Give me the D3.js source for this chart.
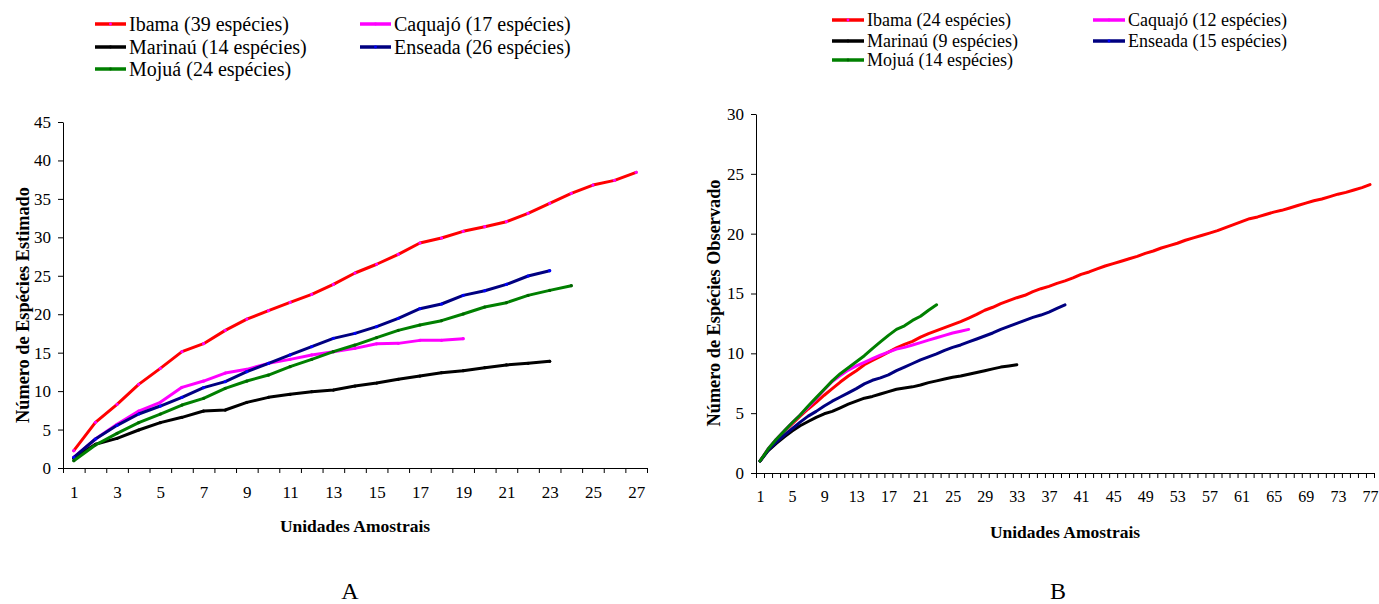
<!DOCTYPE html>
<html>
<head>
<meta charset="utf-8">
<script src="https://cdn.jsdelivr.net/npm/d3@7/dist/d3.min.js"></script>
<style>
  html, body { margin: 0; padding: 0; background: #fff; }
  svg { display: block; font-family: "Liberation Serif", "Times New Roman", Times, "DejaVu Serif", serif; }
  svg text { font-family: "Liberation Serif", "Times New Roman", Times, "DejaVu Serif", serif; fill: #000; }
</style>
</head>
<body>
<svg id="chart" width="1379" height="604"></svg>
<script>
// ---- Panel A: estimated richness per sampling unit ----
const seriesNames = ["Ibama", "Caquajó", "Marinaú", "Enseada", "Mojuá"];
const legendA = ["Ibama (39 espécies)", "Caquajó (17 espécies)", "Marinaú  (14 espécies)", "Enseada (26 espécies)", "Mojuá (24 espécies)"];
const legendB = ["Ibama (24 espécies)", "Caquajó (12 espécies)", "Marinaú (9 espécies)", "Enseada (15 espécies)", "Mojuá (14 espécies)"];
const colors = ["#ff0000", "#ff00ff", "#000000", "#000080", "#008000"];
const markerColors = ["#ff00ff", "#ff00ff", "#000000", "#0000ff", "#006400"];

const ibamaA   = [2.25, 5.94, 8.28, 10.88, 12.96, 15.13, 16.17, 17.9, 19.37, 20.46, 21.54, 22.58, 23.88, 25.36, 26.5, 27.79, 29.26, 29.91, 30.78, 31.38, 32.03, 33.12, 34.42, 35.72, 36.8, 37.41, 38.45];
const caquajoA = [1.39, 3.77, 5.68, 7.41, 8.54, 10.49, 11.31, 12.35, 12.83, 13.61, 14.13, 14.7, 15.13, 15.56, 16.15, 16.21, 16.6, 16.6, 16.82];
const marinauA = [1.26, 3.08, 3.86, 4.94, 5.9, 6.59, 7.41, 7.54, 8.54, 9.19, 9.58, 9.93, 10.14, 10.66, 11.05, 11.53, 11.96, 12.4, 12.66, 13.05, 13.4, 13.61, 13.87];
const enseadaA = [1.39, 3.77, 5.55, 7.02, 8.06, 9.19, 10.45, 11.23, 12.53, 13.61, 14.7, 15.78, 16.86, 17.51, 18.38, 19.46, 20.72, 21.33, 22.45, 23.06, 23.88, 24.97, 25.66];
const mojuaA   = [0.95, 2.99, 4.51, 5.9, 7.02, 8.19, 9.06, 10.36, 11.31, 12.09, 13.18, 14.13, 15.13, 15.99, 16.95, 17.9, 18.6, 19.16, 20.03, 20.94, 21.5, 22.45, 23.1, 23.71];

// ---- Panel B: observed richness per sampling unit ----
const ibamaB = [1.0, 1.95, 2.75, 3.45, 4.1, 4.75, 5.35, 5.9, 6.5, 7.05, 7.6, 8.1, 8.55, 9.05, 9.4, 9.75, 10.1, 10.45, 10.75, 11.0,
  11.35, 11.65, 11.9, 12.15, 12.4, 12.65, 12.95, 13.25, 13.6, 13.85, 14.15, 14.4, 14.65, 14.85, 15.15, 15.4, 15.6, 15.85, 16.05, 16.3,
  16.6, 16.8, 17.05, 17.3, 17.5, 17.7, 17.9, 18.1, 18.35, 18.55, 18.8, 19.0, 19.2, 19.45, 19.65, 19.85, 20.05, 20.25, 20.5, 20.75,
  21.0, 21.25, 21.4, 21.6, 21.8, 21.95, 22.15, 22.35, 22.55, 22.75, 22.9, 23.1, 23.3, 23.45, 23.65, 23.85, 24.1];
const caquajoB = [1.0, 2.0, 2.8, 3.5, 4.2, 4.85, 5.5, 6.2, 6.95, 7.65, 8.15, 8.6, 8.95, 9.25, 9.55, 9.85, 10.1, 10.35, 10.5, 10.7,
  10.9, 11.1, 11.3, 11.5, 11.7, 11.85, 12.0];
const marinauB = [1.0, 1.85, 2.45, 3.0, 3.5, 3.95, 4.3, 4.65, 4.95, 5.15, 5.45, 5.75, 6.0, 6.25, 6.4, 6.6, 6.8, 7.0, 7.1, 7.2,
  7.35, 7.55, 7.7, 7.85, 8.0, 8.1, 8.25, 8.4, 8.55, 8.7, 8.85, 8.95, 9.05];
const enseadaB = [1.0, 1.9, 2.55, 3.15, 3.7, 4.25, 4.75, 5.15, 5.6, 6.0, 6.35, 6.7, 7.05, 7.45, 7.75, 7.95, 8.2, 8.55, 8.85, 9.15,
  9.45, 9.7, 9.95, 10.25, 10.5, 10.7, 10.95, 11.2, 11.45, 11.7, 12.0, 12.25, 12.5, 12.75, 13.0, 13.2, 13.45, 13.75, 14.05];
const mojuaB = [1.0, 2.0, 2.8, 3.5, 4.2, 4.85, 5.6, 6.3, 7.0, 7.7, 8.3, 8.8, 9.3, 9.8, 10.4, 10.95, 11.5, 12.0, 12.3, 12.75,
  13.1, 13.6, 14.05];

const yTicksA = [0, 5, 10, 15, 20, 25, 30, 35, 40, 45];
const yTicksB = [0, 5, 10, 15, 20, 25, 30];
const xLabelsA = d3.range(1, 28, 2);
const xLabelsB = d3.range(1, 78, 4);

const FONT = '"Liberation Serif", "Times New Roman", Times, "DejaVu Serif", serif';

const svg = d3.select("#chart");
svg.append("rect").attr("width", 1379).attr("height", 604).attr("fill", "#fff");

function panel(cfg) {
  const g = svg.append("g");
  const x = d3.scaleLinear().domain([0.5, cfg.nCat + 0.5]).range([cfg.left, cfg.right]);
  const y = d3.scaleLinear().domain([0, cfg.yMax]).range([cfg.bottom, cfg.top]);

  // category boundary tick marks
  g.append("g")
    .attr("transform", `translate(0,${cfg.bottom})`)
    .call(d3.axisBottom(x).tickValues(d3.range(0.5, cfg.nCat + 1, 1)).tickFormat("").tickSize(5).tickSizeOuter(0))
    .call(a => a.select(".domain").attr("stroke", "#000"))
    .call(a => a.selectAll("line").attr("stroke", "#000"));
  // category labels
  g.append("g")
    .attr("transform", `translate(0,${cfg.bottom})`)
    .call(d3.axisBottom(x).tickValues(cfg.xLabels).tickFormat(d3.format("d")).tickSize(0).tickPadding(18))
    .call(a => a.attr("font-family", null))
    .call(a => a.select(".domain").remove())
    .call(a => a.selectAll("text").attr("font-size", cfg.xFont).style("font-family", FONT));

  // value axis
  g.append("g")
    .attr("transform", `translate(${cfg.left},0)`)
    .call(d3.axisLeft(y).tickValues(cfg.yTicks).tickFormat(d3.format("d")).tickSize(5).tickSizeOuter(0).tickPadding(7))
    .call(a => a.attr("font-family", null))
    .call(a => a.select(".domain").attr("stroke", "#000"))
    .call(a => a.selectAll("line").attr("stroke", "#000"))
    .call(a => a.selectAll("text").attr("font-size", 17).style("font-family", FONT));

  // axis titles
  g.append("text")
    .attr("transform", `translate(${cfg.yTitleX},${cfg.yTitleY}) rotate(-90)`)
    .attr("text-anchor", "middle").attr("font-weight", "bold").attr("font-size", 18.3)
    .style("font-family", FONT)
    .text(cfg.yTitle);
  g.append("text")
    .attr("x", (cfg.left + cfg.right) / 2).attr("y", cfg.xTitleY)
    .attr("text-anchor", "middle").attr("font-weight", "bold").attr("font-size", 17.5)
    .style("font-family", FONT)
    .text("Unidades Amostrais");
  g.append("text")
    .attr("x", cfg.panelX).attr("y", 599)
    .attr("text-anchor", "middle").attr("font-size", 24)
    .style("font-family", FONT)
    .text(cfg.panelLabel);

  // series
  const line = d3.line().x((d, i) => x(i + 1)).y(d => y(d));
  cfg.series.forEach((vals, k) => {
    g.append("path").datum(vals)
      .attr("fill", "none").attr("stroke", colors[k]).attr("stroke-width", cfg.lw)
      .attr("stroke-linejoin", "round").attr("stroke-linecap", "round")
      .attr("d", line);
    if (cfg.markers) {
      g.append("g").selectAll("circle").data(vals).join("circle")
        .attr("cx", (d, i) => x(i + 1)).attr("cy", d => y(d)).attr("r", 1.6)
        .attr("fill", markerColors[k]);
    }
  });

  // legend
  cfg.legend.forEach((txt, k) => {
    const pos = cfg.legendPos[k];
    const lg = g.append("g").attr("transform", `translate(${pos[0]},${pos[1]})`);
    lg.append("line").attr("x1", 0).attr("x2", cfg.legendLen).attr("y1", 0).attr("y2", 0)
      .attr("stroke", colors[k]).attr("stroke-width", 3.5);
    lg.append("circle").attr("cx", cfg.legendLen / 2).attr("cy", 0).attr("r", 1.4).attr("fill", markerColors[k]);
    lg.append("text").attr("x", cfg.legendLen + 3).attr("y", 0).attr("dy", "0.33em")
      .attr("font-size", cfg.legendFont).style("font-family", FONT).text(txt);
  });
}

panel({
  nCat: 27, yMax: 45, left: 63, right: 647, top: 122, bottom: 468,
  xLabels: xLabelsA, xFont: 17, yTicks: yTicksA,
  yTitle: "Número de Espécies Estimado", yTitleX: 29, yTitleY: 305, xTitleY: 532,
  panelX: 350, panelLabel: "A", lw: 3, markers: true,
  series: [ibamaA, caquajoA, marinauA, enseadaA, mojuaA],
  legend: legendA, legendLen: 31, legendFont: 20,
  legendPos: [[95, 24], [360, 24], [95, 47], [360, 47], [95, 69]]
});

panel({
  nCat: 77, yMax: 30, left: 756, right: 1374, top: 114, bottom: 473,
  xLabels: xLabelsB, xFont: 16, yTicks: yTicksB,
  yTitle: "Número de Espécies Observado", yTitleX: 720, yTitleY: 303, xTitleY: 538,
  panelX: 1058, panelLabel: "B", lw: 3, markers: false,
  series: [ibamaB, caquajoB, marinauB, enseadaB, mojuaB],
  legend: legendB, legendLen: 32, legendFont: 18,
  legendPos: [[832, 20], [1093, 20], [832, 41], [1093, 41], [832, 60]]
});
</script>
</body>
</html>
